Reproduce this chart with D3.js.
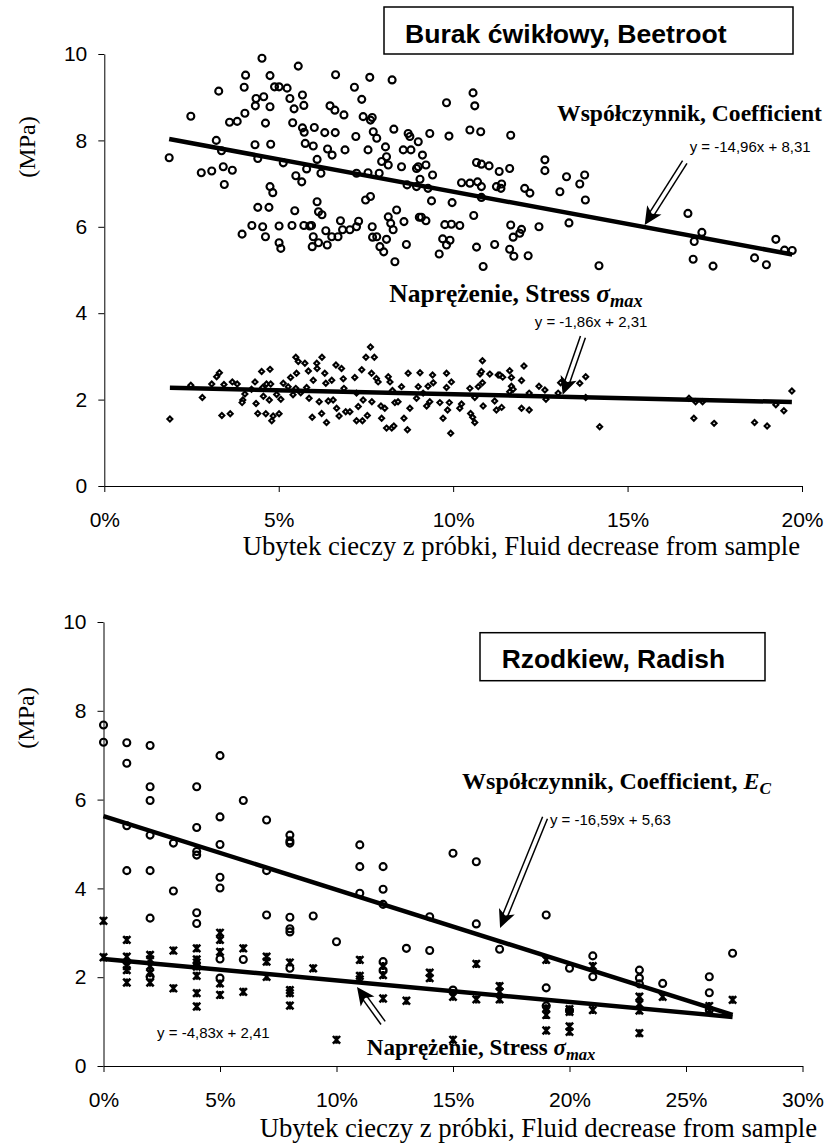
<!DOCTYPE html>
<html>
<head>
<meta charset="utf-8">
<script src="https://cdn.jsdelivr.net/npm/d3@7"></script>
<style>
  body { margin: 0; background: #fff; }
</style>
</head>
<body>
<div id="chart-area"></div>
<script>
// Values: x = fluid decrease (%), y = MPa

const yTicks = [0, 2, 4, 6, 8, 10]
const beetXTicks = [0, 5, 10, 15, 20]
const radishXTicks = [0, 5, 10, 15, 20, 25, 30]

// Beetroot - coefficient (open circles)
const beetCoef = [
  [1.86,7.60],[2.48,8.56],[2.78,7.25],[3.08,7.29],[3.21,8.00],[3.28,9.14],[3.36,7.76],[3.41,7.39],[3.44,6.98],[3.67,7.31],
  [3.59,8.42],[3.81,8.44],[3.95,5.83],[4.03,8.63],[4.01,9.23],[4.05,9.51],[4.23,6.03],[4.32,7.90],[4.33,8.80],[4.35,8.97],
  [4.40,7.58],[4.40,6.45],[4.52,9.90],[4.54,6.00],[4.57,9.01],[4.62,8.40],[4.62,5.77],[4.72,6.45],[4.75,9.50],[4.75,8.78],
  [4.77,7.91],[4.75,6.93],[4.83,6.79],[4.88,9.24],[5.01,9.24],[5.01,6.02],[5.01,5.63],[5.06,5.50],[5.13,7.48],[5.24,9.21],
  [5.32,8.97],[5.38,6.03],[5.40,8.41],[5.44,8.73],[5.46,6.37],[5.49,7.18],[5.56,9.72],[5.66,7.04],[5.68,9.05],[5.72,8.81],
  [5.68,8.29],[5.73,8.19],[5.76,7.93],[5.80,7.34],[5.72,6.03],[5.89,6.02],[5.94,6.03],[5.99,5.77],[5.96,5.54],[6.02,8.30],
  [5.99,7.87],[6.10,7.56],[6.10,6.58],[6.14,6.35],[6.21,7.24],[6.24,6.28],[6.14,5.63],[6.32,8.18],[6.35,5.91],[6.40,7.80],
  [6.39,5.58],[6.47,8.80],[6.53,7.66],[6.63,9.52],[6.61,8.70],[6.62,8.18],[6.52,5.77],[6.70,5.77],[6.77,6.14],[6.87,8.59],
  [6.90,7.78],[6.83,5.93],[7.04,5.93],[7.17,9.23],[7.21,8.09],[7.23,7.24],[7.23,6.00],[7.29,6.13],[7.38,8.95],[7.42,8.55],
  [7.49,6.62],[7.56,7.78],[7.56,7.25],[7.61,9.46],[7.63,6.70],[7.68,8.53],[7.68,6.00],[7.63,8.47],[7.71,8.20],[7.69,5.76],
  [7.81,8.05],[7.81,5.77],[7.88,7.24],[7.90,5.54],[7.95,7.51],[8.01,5.42],[8.06,7.85],[8.09,7.62],[8.14,7.43],[8.14,6.23],
  [8.09,5.71],[8.21,6.08],[8.25,9.40],[8.28,5.93],[8.30,8.26],[8.33,5.19],[8.38,6.39],[8.52,7.39],[8.57,7.78],[8.59,6.12],
  [8.66,5.59],[8.68,6.97],[8.71,8.16],[8.76,8.09],[8.79,7.78],[8.95,7.35],[8.95,6.93],[9.00,7.97],[9.03,6.22],
  [10.57,9.10],[10.62,8.80],[9.81,8.87],[9.33,8.16],[9.88,8.10],[10.48,8.24],[10.79,8.20],[11.65,8.12],[9.12,7.66],[9.00,7.39],
  [9.22,7.43],[9.41,7.20],[9.05,7.10],[9.28,6.89],[10.67,7.49],[10.81,7.45],[11.03,7.41],[11.32,7.28],[11.62,7.35],[10.24,7.02],
  [10.48,7.01],[10.70,7.04],[10.81,6.93],[11.24,6.93],[11.39,6.99],[11.37,6.89],[12.05,6.89],[12.20,6.78],[12.63,7.55],[12.63,7.30],
  [13.25,7.16],[13.77,7.20],[13.63,6.99],[13.06,6.81],[13.79,6.62],[10.81,6.68],[9.38,6.60],[9.97,6.56],[9.09,6.22],[9.22,6.14],
  [9.76,6.05],[9.95,6.06],[10.19,6.03],[10.59,6.26],[11.65,6.04],[11.96,5.94],[11.91,5.85],[11.72,5.76],[12.46,6.00],[13.32,6.09],
  [9.70,5.72],[9.91,5.69],[9.81,5.58],[9.60,5.37],[10.67,5.53],[11.19,5.59],[11.62,5.48],[11.74,5.32],[12.15,5.33],[10.86,5.08],
  [14.18,5.10],[16.73,6.31],[17.13,5.87],[16.91,5.66],[16.88,5.25],[17.45,5.09],[18.64,5.28],[18.98,5.12],[19.25,5.71],[19.50,5.46],
  [19.72,5.45]
]

// Beetroot - stress (diamonds)
const beetStress = [
  [1.88,1.55],[2.48,2.33],[2.81,2.05],[3.08,2.36],[3.22,2.53],[3.30,2.62],[3.37,1.63],[3.43,2.35],[3.61,1.67],[3.67,2.41],
  [3.81,2.36],[3.97,1.99],[3.95,1.93],[4.03,2.13],[4.22,2.24],[4.32,2.41],[4.35,1.91],[4.40,1.68],[4.51,2.65],[4.54,2.28],
  [4.56,2.08],[4.63,1.67],[4.65,2.36],[4.73,1.99],[4.75,2.70],[4.77,2.36],[4.80,1.51],[4.84,1.62],[5.01,1.67],[4.94,2.12],
  [5.06,2.01],[5.13,2.38],[5.27,2.30],[5.34,2.51],[5.41,2.11],[5.49,2.98],[5.51,2.61],[5.56,2.88],[5.49,2.26],[5.63,2.16],
  [5.75,2.84],[5.80,2.28],[5.87,2.03],[5.85,2.66],[5.96,1.59],[5.99,2.45],[6.09,2.84],[6.10,2.72],[6.16,1.95],[6.23,1.68],
  [6.24,2.98],[6.32,2.61],[6.35,2.38],[6.37,1.47],[6.42,1.97],[6.52,2.45],[6.56,1.99],[6.64,2.80],[6.66,1.80],[6.73,1.62],
  [6.80,2.72],[6.85,2.48],[6.87,2.26],[6.92,1.72],[7.04,1.72],[7.18,2.51],[7.23,2.15],[7.23,1.51],[7.28,1.84],[7.38,2.69],
  [7.40,1.51],[7.42,1.99],[7.50,2.98],[7.54,1.63],[7.63,3.22],[7.66,2.61],[7.67,1.95],[7.74,2.98],[7.80,2.49],[7.85,2.41],
  [7.93,1.85],[7.95,1.57],[8.04,1.80],[8.09,1.34],[8.14,2.53],[8.19,2.41],[8.24,1.34],[8.30,1.39],[8.26,2.21],[8.33,1.93],
  [8.42,1.95],[8.52,2.30],[8.59,1.57],[8.71,2.61],[8.69,1.30],[8.76,1.80],[8.95,2.03],[9.00,2.30],[9.05,2.62],[9.14,2.15],
  [9.24,1.85],[9.28,2.31],[9.33,1.95],[9.41,2.57],[9.43,2.39],[9.62,1.93],[9.71,1.57],[9.81,2.61],[9.81,2.28],[9.84,1.76],
  [9.89,1.93],[9.93,1.22],[9.95,2.41],[10.19,1.80],[10.24,1.90],[10.48,2.26],[10.50,1.68],[10.56,1.59],[10.62,1.47],[10.62,2.05],
  [10.72,2.30],[10.77,2.59],[10.84,2.90],[10.81,2.65],[10.84,2.39],[10.86,1.85],[11.05,2.59],[11.19,1.97],[11.24,1.76],[11.29,2.57],
  [11.39,1.82],[11.34,2.57],[11.42,2.52],[11.62,2.67],[11.67,2.51],[11.67,2.31],[11.72,2.24],[11.62,2.18],[11.96,2.44],[12.03,2.78],
  [11.96,1.80],[12.18,1.76],[12.18,2.15],[12.46,2.31],[12.63,2.22],[12.66,2.01],[13.01,2.15],[13.08,2.39],[13.63,2.38],[13.80,2.53],
  [13.80,2.05],[14.20,1.37],[16.76,2.03],[16.90,1.57],[16.95,1.95],[17.15,1.95],[17.48,1.45],[18.64,1.47],[19.00,1.39],[19.25,1.88],
  [19.48,1.74],[19.71,2.20]
]

// Radish - coefficient (open circles)
const radishCoef = [
  [0,7.68],[0,7.29],[1,7.28],[1,6.82],[1,5.41],[1,4.40],[2,7.22],[2,6.29],[2,5.98],[2,5.20],[2,4.40],[2,3.33],[2,2.01],
  [3,5.02],[3,3.94],[4,6.29],[4,5.37],[4,4.83],[4,4.75],[4,3.45],[4,3.21],[5,6.99],[5,5.61],[5,4.99],[5,4.25],[5,4.01],
  [5,2.41],[5,1.98],[6,5.98],[6,2.40],[7,5.54],[7,4.40],[7,3.40],[8,5.20],[8,5.07],[8,5.02],[8,3.35],[8,3.09],[8,3.02],
  [8,2.20],[9,3.38],[10,2.80],[11,4.98],[11,4.49],[11,3.89],[12,4.49],[12,3.98],[12,3.64],[12,2.35],[12,2.15],[13,2.65],
  [14,3.36],[14,2.60],[15,4.79],[15,1.71],[16,4.60],[16,3.20],[17,2.63],[19,3.40],[19,1.76],[19,1.35],[20,2.20],[20,1.25],
  [21,2.48],[21,2.01],[23,2.16],[23,1.98],[23,1.85],[24,1.86],[26,2.01],[26,1.65],[26,1.26],[27,2.54]
]

// Radish - stress (stars)
const radishStress = [
  [0,3.27],[0,2.45],[1,2.84],[1,2.46],[1,2.25],[1,2.16],[1,1.88],[2,2.50],[2,2.40],[2,2.25],[2,2.09],[2,1.88],[3,2.60],
  [3,1.75],[4,2.65],[4,2.40],[4,2.33],[4,2.24],[4,2.03],[4,1.64],[4,1.34],[5,3.00],[5,2.84],[5,2.57],[5,1.86],[5,1.60],
  [6,2.65],[6,1.67],[7,2.46],[7,2.35],[7,2.01],[8,2.33],[8,1.71],[8,1.64],[8,1.36],[9,2.20],[10,0.59],[11,2.39],[11,2.03],
  [11,1.95],[12,2.25],[12,2.05],[12,1.52],[13,1.47],[14,2.10],[14,1.98],[15,1.56],[15,0.59],[16,2.30],[16,1.50],[17,1.80],
  [17,1.67],[17,1.50],[19,2.39],[19,1.30],[19,1.15],[19,0.80],[20,1.28],[20,1.22],[20,0.89],[20,0.77],[21,2.25],[21,1.26],
  [23,1.56],[23,1.40],[23,1.25],[23,0.74],[24,1.56],[26,1.35],[26,1.25],[27,1.49]
]

// trend lines: [slope (per fraction), intercept]
const beetCoefFit = [-14.96, 8.31]
const beetStressFit = [-1.86, 2.31]
const radishCoefFit = [-16.59, 5.63]
const radishStressFit = [-4.83, 2.41]

const SANS = "'Liberation Sans', Arial, sans-serif"
const SERIF = "'Liberation Serif', 'Times New Roman', serif"

const svg = d3.select("#chart-area").append("svg")
  .attr("width", 827)
  .attr("height", 1147)
  .style("font-family", SERIF)

function makePanel(p) {
  const x = d3.scaleLinear().domain([0, p.xMax]).range([p.left, p.right])
  const y = d3.scaleLinear().domain([0, 10]).range([p.bottom, p.top])
  const g = svg.append("g")

  g.append("g")
    .attr("transform", `translate(0,${p.bottom})`)
    .call(d3.axisBottom(x).tickValues(p.xTicks).tickFormat(d => d + "%")
      .tickSize(6).tickSizeOuter(0).tickPadding(20))
    .attr("font-family", SANS).attr("font-size", 21)

  g.append("g")
    .attr("transform", `translate(${p.left},0)`)
    .call(d3.axisLeft(y).tickValues(yTicks).tickSize(6).tickSizeOuter(0).tickPadding(11))
    .attr("font-family", SANS).attr("font-size", 21)

  g.append("text")
    .attr("transform", `translate(${p.left - 78},${p.yTitle}) rotate(-90)`)
    .attr("text-anchor", "middle")
    .attr("dy", "0.35em")
    .attr("font-size", 24)
    .text("(MPa)")

  g.append("text")
    .attr("x", p.xTitleEnd)
    .attr("y", p.xTitleBase)
    .attr("text-anchor", "end")
    .attr("font-size", 26.7)
    .text("Ubytek cieczy z próbki, Fluid decrease from sample")

  // title box
  const box = g.append("g")
  box.append("rect")
    .attr("x", p.box[0]).attr("y", p.box[1])
    .attr("width", p.box[2]).attr("height", p.box[3])
    .attr("fill", "#fff").attr("stroke", "#000").attr("stroke-width", 1.5)
  box.append("text")
    .attr("x", p.box[0] + p.boxPad)
    .attr("y", p.box[1] + p.boxBase)
    .attr("font-family", SANS).attr("font-weight", "bold").attr("font-size", p.boxFont)
    .text(p.title)

  return { x, y, g }
}

function circles(panel, data) {
  panel.g.append("g").selectAll("circle")
    .data(data).enter().append("circle")
    .attr("cx", d => panel.x(d[0]))
    .attr("cy", d => panel.y(d[1]))
    .attr("r", 3.5)
    .attr("fill", "none")
    .attr("stroke", "#000")
    .attr("stroke-width", 2.1)
}

function diamonds(panel, data) {
  panel.g.append("g").selectAll("path")
    .data(data).enter().append("path")
    .attr("transform", d => `translate(${panel.x(d[0])},${panel.y(d[1])})`)
    .attr("d", "M0,-2.5L2.5,0L0,2.5L-2.5,0Z")
    .attr("fill", "#fff")
    .attr("stroke", "#000")
    .attr("stroke-width", 2.1)
}

function stars(panel, data) {
  panel.g.append("g").selectAll("path")
    .data(data).enter().append("path")
    .attr("transform", d => `translate(${panel.x(d[0])},${panel.y(d[1])})`)
    .attr("d", "M-3.6,-3.8L3.6,3.8M-3.6,3.8L3.6,-3.8M0,-4L0,4")
    .attr("fill", "none")
    .attr("stroke", "#000")
    .attr("stroke-width", 2.5)
}

function trend(panel, fit, data) {
  const ext = d3.extent(data, d => d[0])
  panel.g.append("path")
    .datum(ext)
    .attr("d", d3.line().x(d => panel.x(d)).y(d => panel.y(fit[0] * d / 100 + fit[1])))
    .attr("fill", "none")
    .attr("stroke", "#000")
    .attr("stroke-width", 4.5)
}

// hollow double-shaft arrow from tail to tip (data coords)
function arrow(panel, tail, tip) {
  const x1 = panel.x(tail[0]), y1 = panel.y(tail[1])
  const x2 = panel.x(tip[0]), y2 = panel.y(tip[1])
  const len = Math.hypot(x2 - x1, y2 - y1)
  const ux = (x2 - x1) / len, uy = (y2 - y1) / len
  const nx = -uy, ny = ux
  const L = 18, Wd = 8.5, off = 2.6
  const bx = x2 - ux * L * 0.75, by = y2 - uy * L * 0.75
  const a = panel.g.append("g")
  ;[-off, off].forEach(o => {
    a.append("line")
      .attr("x1", x1 + nx * o).attr("y1", y1 + ny * o)
      .attr("x2", bx + nx * o).attr("y2", by + ny * o)
      .attr("stroke", "#000").attr("stroke-width", 1.5)
  })
  a.append("path")
    .attr("d", `M${x2},${y2}L${x2 - ux * L + nx * Wd},${y2 - uy * L + ny * Wd}` +
      `L${bx},${by}L${x2 - ux * L - nx * Wd},${y2 - uy * L - ny * Wd}Z`)
    .attr("fill", "#000")
}

function label(panel, pos, parts, size) {
  const t = panel.g.append("text")
    .attr("x", panel.x(pos[0]))
    .attr("y", panel.y(pos[1]))
    .attr("font-weight", "bold")
    .attr("font-size", size)
  parts.forEach(p => {
    const s = t.append("tspan").text(p.t)
    if (p.i) s.attr("font-style", "italic")
    if (p.sub) s.attr("font-size", size * 0.72).attr("dy", 5)
  })
}

function equation(panel, pos, str) {
  panel.g.append("text")
    .attr("x", panel.x(pos[0]))
    .attr("y", panel.y(pos[1]))
    .attr("font-family", SANS)
    .attr("font-size", 15)
    .text(str)
}

// ---- Beetroot ----
const beetPanel = makePanel({
  left: 104.3, right: 802, top: 54, bottom: 486, xMax: 20, xTicks: beetXTicks,
  yTitle: 147, xTitleEnd: 800, xTitleBase: 555,
  box: [384, 7, 409, 47], boxPad: 21, boxBase: 35.5, boxFont: 26.6, title: "Burak ćwikłowy, Beetroot"
})
circles(beetPanel, beetCoef)
diamonds(beetPanel, beetStress)
trend(beetPanel, beetCoefFit, beetCoef)
trend(beetPanel, beetStressFit, beetStress)
arrow(beetPanel, [16.64, 7.50], [15.49, 6.04])
arrow(beetPanel, [13.72, 3.45], [13.14, 2.11])
label(beetPanel, [12.98, 8.45], [{ t: "Współczynnik, Coefficient" }], 23.6)
label(beetPanel, [8.17, 4.26], [{ t: "Naprężenie, Stress " }, { t: "σ", i: true }, { t: "max", i: true, sub: true }], 25.5)
equation(beetPanel, [16.78, 7.72], "y = -14,96x + 8,31")
equation(beetPanel, [12.34, 3.67], "y = -1,86x + 2,31")

// ---- Radish ----
const radishPanel = makePanel({
  left: 103.5, right: 802.5, top: 622, bottom: 1066, xMax: 30, xTicks: radishXTicks,
  yTitle: 718, xTitleEnd: 817, xTitleBase: 1137,
  box: [480, 632.7, 285, 48], boxPad: 21.7, boxBase: 35.5, boxFont: 26.4, title: "Rzodkiew, Radish"
})
circles(radishPanel, radishCoef)
stars(radishPanel, radishStress)
trend(radishPanel, radishCoefFit, radishCoef)
trend(radishPanel, radishStressFit, radishStress)
arrow(radishPanel, [18.95, 5.59], [17.02, 3.11])
arrow(radishPanel, [12.0, 0.97], [10.88, 1.78])
label(radishPanel, [15.39, 6.24], [{ t: "Współczynnik, Coefficient, " }, { t: "E", i: true }, { t: "C", i: true, sub: true }], 24)
label(radishPanel, [11.30, 0.25], [{ t: "Naprężenie, Stress " }, { t: "σ", i: true }, { t: "max", i: true, sub: true }], 23)
equation(radishPanel, [19.16, 5.42], "y = -16,59x + 5,63")
equation(radishPanel, [2.30, 0.62], "y = -4,83x + 2,41")
</script>
</body>
</html>
